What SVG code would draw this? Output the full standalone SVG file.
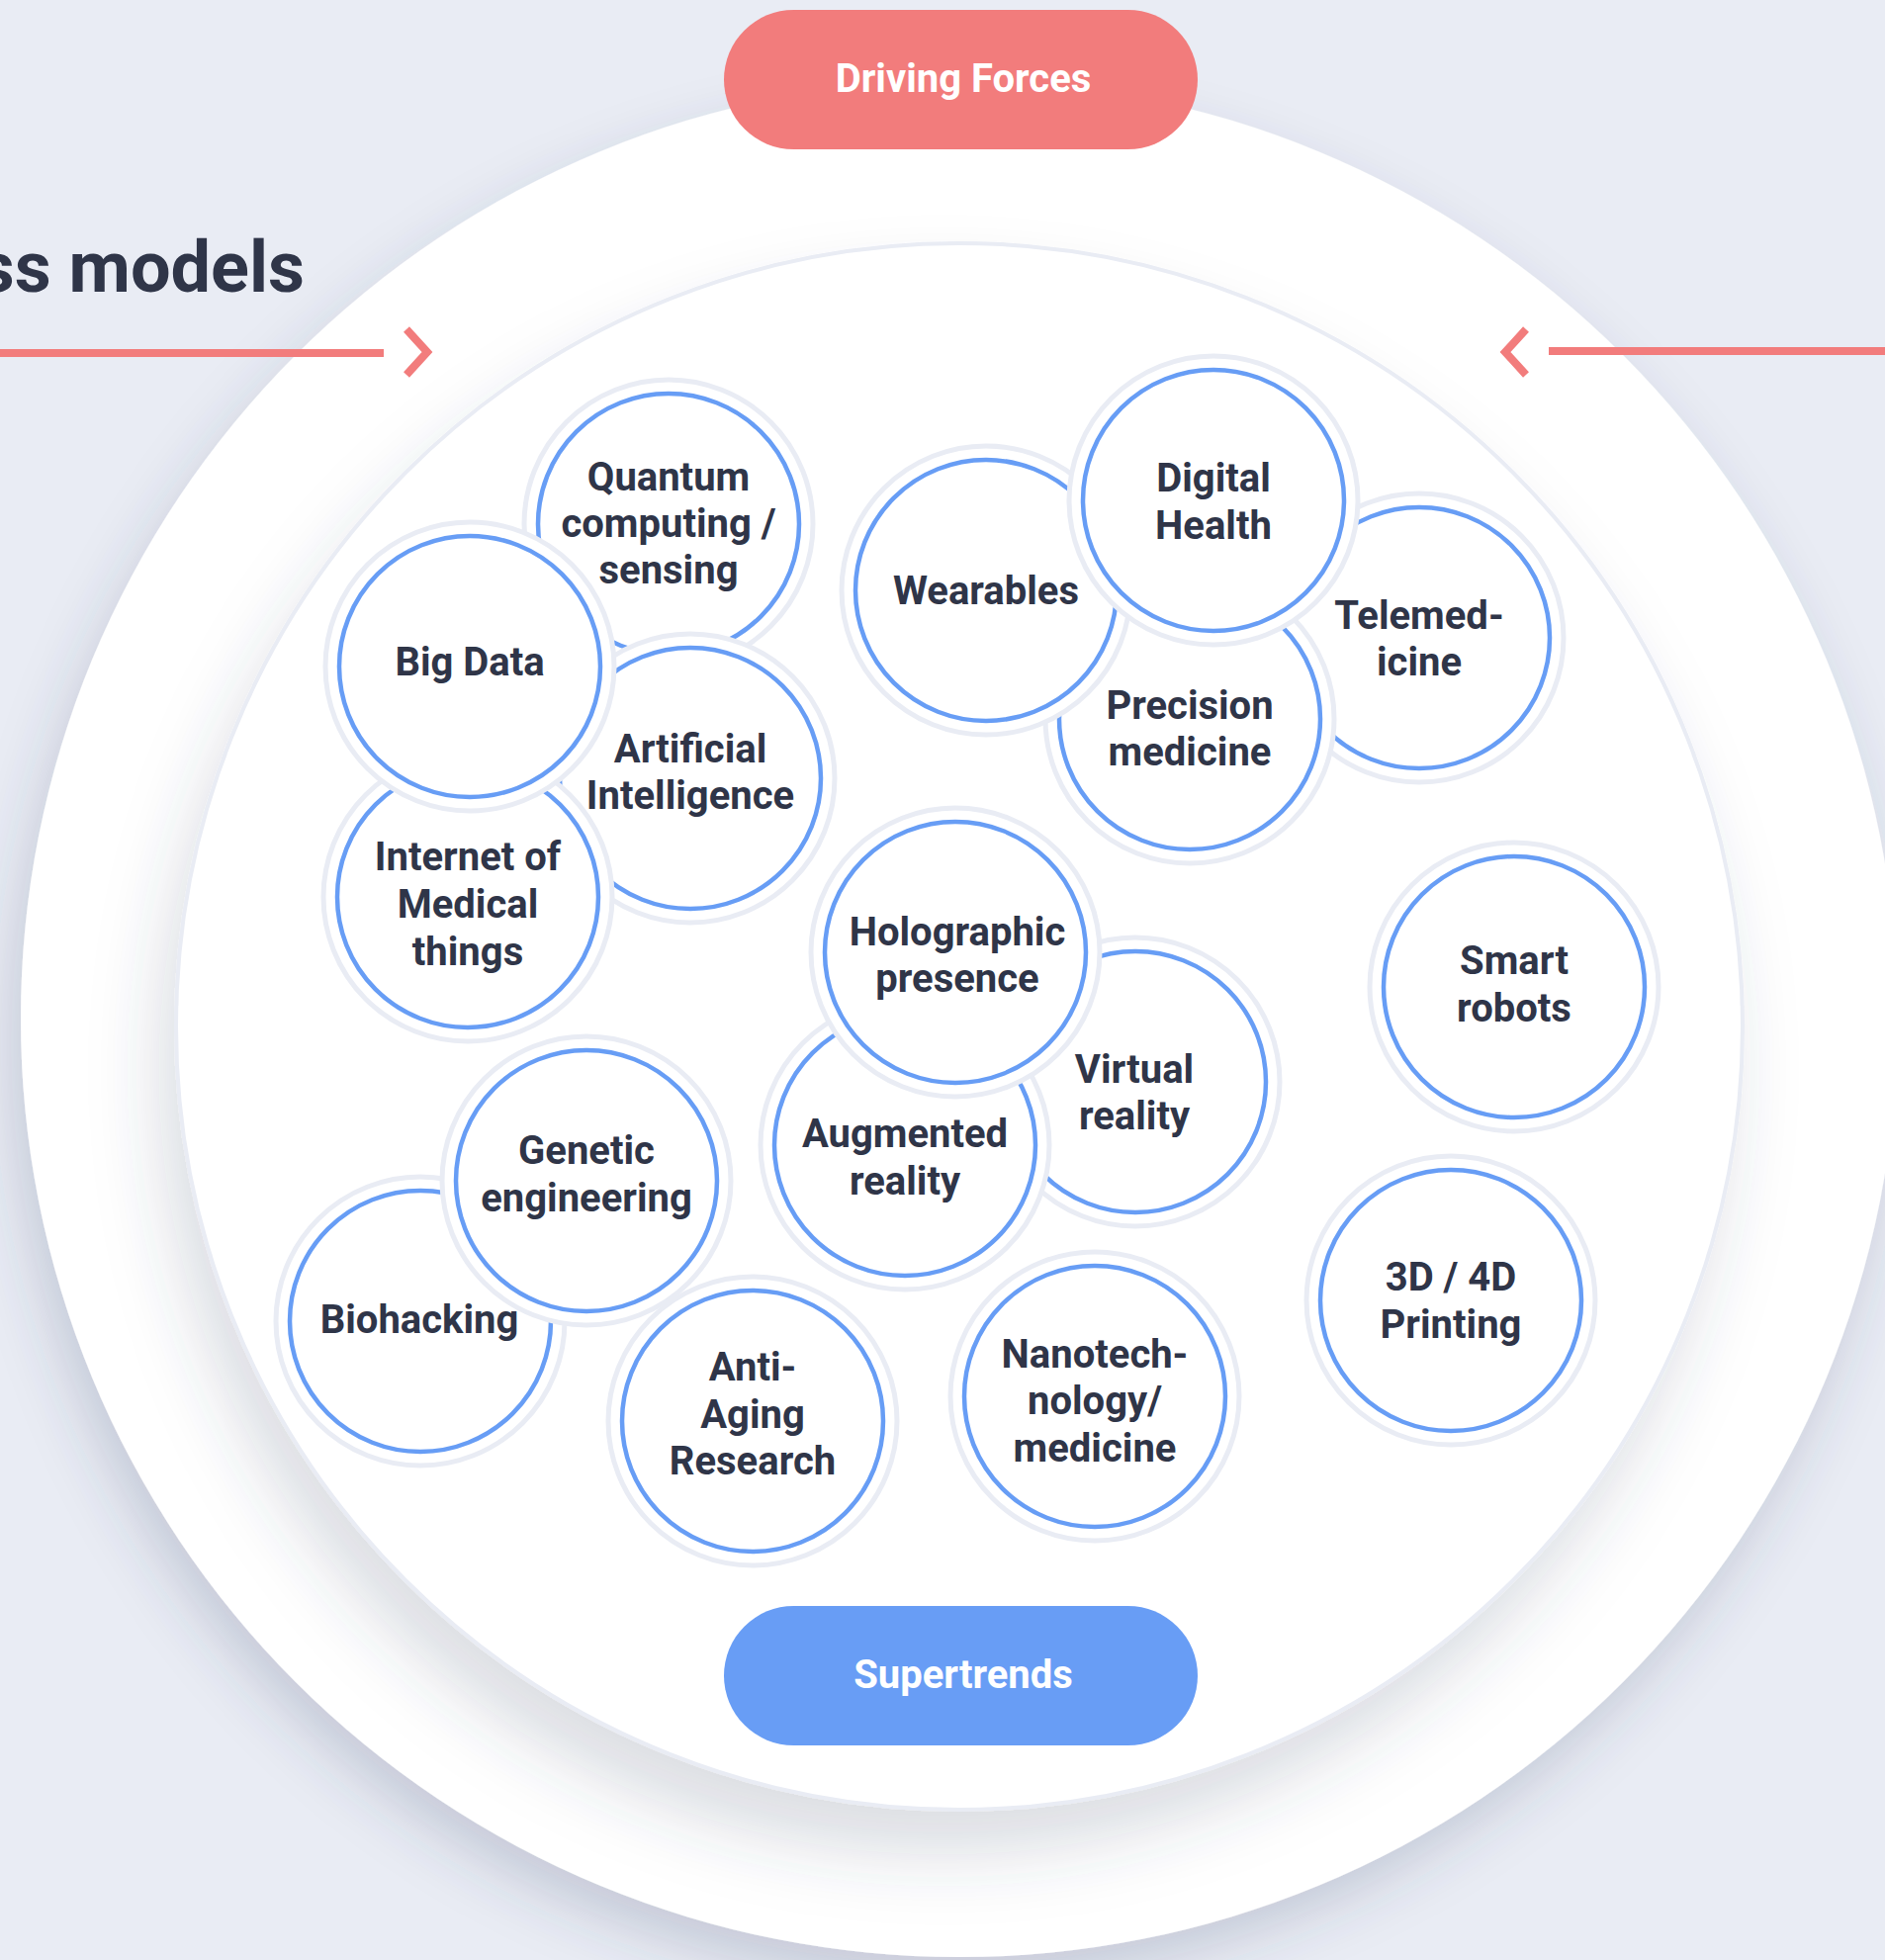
<svg xmlns="http://www.w3.org/2000/svg" width="1906" height="1982" viewBox="0 0 1906 1982">
<style>
.ring{fill:#ffffff;stroke:#e9ecf4;stroke-width:5}
.core{fill:#ffffff;stroke:#679df5;stroke-width:4.5}
.lbl{font-family:Roboto,"Liberation Sans",sans-serif;font-weight:700;font-size:40px;fill:#2f3548;text-anchor:middle}
.pilltxt{font-family:Roboto,"Liberation Sans",sans-serif;font-weight:700;font-size:40px;fill:#ffffff;text-anchor:middle}
.conn{fill:none;stroke:#f27c7c;stroke-width:8}
</style>
<defs>
<filter id="shOuter" x="-20%" y="-20%" width="140%" height="140%">
<feDropShadow dx="-10" dy="26" stdDeviation="28" flood-color="#3b4266" flood-opacity="0.2"/>
</filter>
<filter id="shInner" x="-20%" y="-20%" width="140%" height="150%">
<feDropShadow dx="-16" dy="44" stdDeviation="34" flood-color="#3b4266" flood-opacity="0.18"/>
</filter>
</defs>
<rect x="0" y="0" width="1906" height="1982" fill="#e9ecf4"/>
<g id="background">
<circle cx="970" cy="1030" r="949" fill="#ffffff" filter="url(#shOuter)"/>
<circle cx="970" cy="1038" r="792" fill="#ffffff" stroke="#e9ecf4" stroke-width="4" filter="url(#shInner)"/>
</g>
<text x="308" y="295" style="font-family:Roboto,'Liberation Sans',sans-serif;font-weight:700;font-size:72px;fill:#2f3548;text-anchor:end">ss models</text>
<g id="connectors">
<line class="conn" x1="0" y1="357" x2="388" y2="357"/>
<polyline class="conn" points="411,333 432,356 411,379"/>
<line class="conn" x1="1566" y1="355" x2="1906" y2="355"/>
<polyline class="conn" points="1543,333 1522,356 1543,379"/>
</g>
<g id="driving-forces">
<rect x="732" y="10" width="479" height="141" rx="70.5" fill="#f27c7c"/>
<text class="pilltxt" x="974" y="93">Driving Forces</text>
</g>
<g id="supertrends">
<rect x="732" y="1624" width="479" height="141" rx="70.5" fill="#689df5"/>
<text class="pilltxt" x="974" y="1707">Supertrends</text>
</g>
<g id="quantum">
<circle class="ring" cx="676" cy="530" r="146"/><circle class="core" cx="676" cy="530" r="132"/>
<text class="lbl"><tspan x="676" y="496">Quantum</tspan><tspan x="676" y="543">computing /</tspan><tspan x="676" y="590">sensing</tspan></text>
</g>
<g id="artificial-intelligence">
<circle class="ring" cx="698" cy="787" r="146"/><circle class="core" cx="698" cy="787" r="132"/>
<text class="lbl"><tspan x="698" y="771">Artificial</tspan><tspan x="698" y="818">Intelligence</tspan></text>
</g>
<g id="iomt">
<circle class="ring" cx="473" cy="907" r="146"/><circle class="core" cx="473" cy="907" r="132"/>
<text class="lbl"><tspan x="473" y="880">Internet of</tspan><tspan x="473" y="928">Medical</tspan><tspan x="473" y="976">things</tspan></text>
</g>
<g id="big-data">
<circle class="ring" cx="475" cy="674" r="146"/><circle class="core" cx="475" cy="674" r="132"/>
<text class="lbl" x="475" y="683">Big Data</text>
</g>
<g id="telemedicine">
<circle class="ring" cx="1435" cy="645" r="146"/><circle class="core" cx="1435" cy="645" r="132"/>
<text class="lbl"><tspan x="1435" y="636">Telemed-</tspan><tspan x="1435" y="683">icine</tspan></text>
</g>
<g id="precision-medicine">
<circle class="ring" cx="1203" cy="727" r="146"/><circle class="core" cx="1203" cy="727" r="132"/>
<text class="lbl"><tspan x="1203" y="727">Precision</tspan><tspan x="1203" y="774">medicine</tspan></text>
</g>
<g id="wearables">
<circle class="ring" cx="997" cy="597" r="146"/><circle class="core" cx="997" cy="597" r="132"/>
<text class="lbl" x="997" y="611">Wearables</text>
</g>
<g id="digital-health">
<circle class="ring" cx="1227" cy="506" r="146"/><circle class="core" cx="1227" cy="506" r="132"/>
<text class="lbl"><tspan x="1227" y="497">Digital</tspan><tspan x="1227" y="545">Health</tspan></text>
</g>
<g id="virtual-reality">
<circle class="ring" cx="1148" cy="1094" r="146"/><circle class="core" cx="1148" cy="1094" r="132"/>
<text class="lbl"><tspan x="1147" y="1095">Virtual</tspan><tspan x="1147" y="1142">reality</tspan></text>
</g>
<g id="augmented-reality">
<circle class="ring" cx="915" cy="1158" r="146"/><circle class="core" cx="915" cy="1158" r="132"/>
<text class="lbl"><tspan x="915" y="1160">Augmented</tspan><tspan x="915" y="1208">reality</tspan></text>
</g>
<g id="holographic-presence">
<circle class="ring" cx="966" cy="963" r="146"/><circle class="core" cx="966" cy="963" r="132"/>
<text class="lbl"><tspan x="968" y="956">Holographic</tspan><tspan x="968" y="1003">presence</tspan></text>
</g>
<g id="smart-robots">
<circle class="ring" cx="1531" cy="998" r="146"/><circle class="core" cx="1531" cy="998" r="132"/>
<text class="lbl"><tspan x="1531" y="985">Smart</tspan><tspan x="1531" y="1033">robots</tspan></text>
</g>
<g id="biohacking">
<circle class="ring" cx="425" cy="1336" r="146"/><circle class="core" cx="425" cy="1336" r="132"/>
<text class="lbl" x="424" y="1348">Biohacking</text>
</g>
<g id="genetic-engineering">
<circle class="ring" cx="593" cy="1194" r="146"/><circle class="core" cx="593" cy="1194" r="132"/>
<text class="lbl"><tspan x="593" y="1177">Genetic</tspan><tspan x="593" y="1225">engineering</tspan></text>
</g>
<g id="anti-aging-research">
<circle class="ring" cx="761" cy="1437" r="146"/><circle class="core" cx="761" cy="1437" r="132"/>
<text class="lbl"><tspan x="761" y="1396">Anti-</tspan><tspan x="761" y="1444">Aging</tspan><tspan x="761" y="1491">Research</tspan></text>
</g>
<g id="nanotechnology">
<circle class="ring" cx="1107" cy="1412" r="146"/><circle class="core" cx="1107" cy="1412" r="132"/>
<text class="lbl"><tspan x="1107" y="1383">Nanotech-</tspan><tspan x="1107" y="1430">nology/</tspan><tspan x="1107" y="1478">medicine</tspan></text>
</g>
<g id="printing">
<circle class="ring" cx="1467" cy="1315" r="146"/><circle class="core" cx="1467" cy="1315" r="132"/>
<text class="lbl"><tspan x="1467" y="1305">3D / 4D</tspan><tspan x="1467" y="1353">Printing</tspan></text>
</g>
</svg>
